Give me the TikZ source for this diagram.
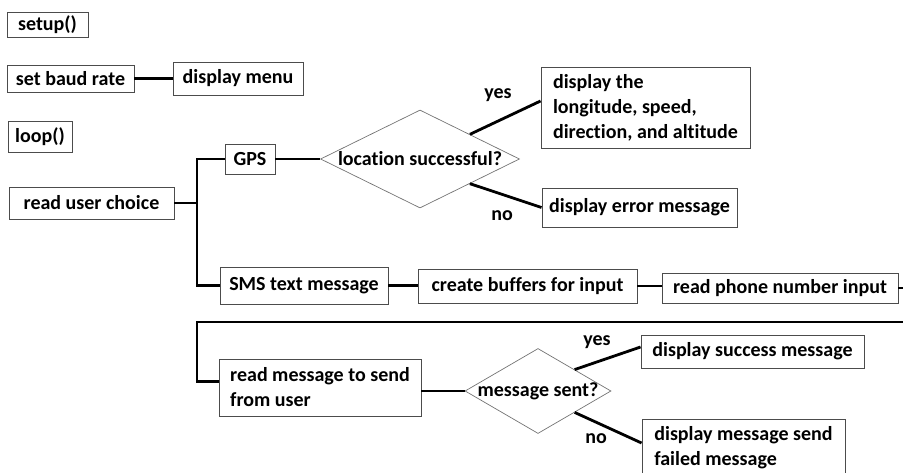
\documentclass[tikz,border=0pt]{standalone}
\usepackage{fontspec}
\setmainfont{Carlito}[Ligatures=NoCommon]
\usetikzlibrary{shapes.geometric}

\begin{document}
\begin{tikzpicture}[x=1pt, y=-1pt,
    font=\fontsize{20}{25}\selectfont\bfseries,
    box/.style={draw=black!70, line width=0.9pt, align=left, inner xsep=4pt, inner ysep=3pt},
    decision/.style={diamond, draw=black!55, line width=0.7pt, inner sep=0pt},
    conn/.style={line width=2.8pt},
    lbl/.style={inner sep=0pt}]
    \useasboundingbox (0,0) rectangle (903,473);

    % Start boxes
    \node[box, minimum width=81pt, minimum height=25pt] (setup) at (47.5,24.5) {setup()};
    \node[box, minimum width=127pt, minimum height=27pt] (baud) at (70.5,78.5) {set baud rate};
    \node[box, minimum width=130pt, minimum height=33pt] (menu) at (238,78.5) {display menu};
    \node[box, minimum width=64pt, minimum height=31pt] (loop) at (40,136.5) {loop()};
    \node[box, minimum width=165pt, minimum height=32pt] (choice) at (91.5,203) {read user choice};

    % GPS branch
    \node[box, minimum width=50pt, minimum height=30pt] (gps) at (250,159) {GPS};
    \node[decision, minimum width=199pt, minimum height=98pt] (gpsok) at (420,159) {\makebox[0pt]{location successful?}};
    \node[box, minimum width=209pt, minimum height=81pt] (showgps) at (645.5,107.5) {display the\\longitude, speed,\\direction, and altitude};
    \node[box, minimum width=195pt, minimum height=39pt] (gpserr) at (639.5,207.5) {display error message};

    % SMS branch
    \node[box, minimum width=168pt, minimum height=37pt] (sms) at (304,285.5) {SMS text message};
    \node[box, minimum width=219pt, minimum height=34pt] (buffers) at (527.5,286) {create buffers for input};
    \node[box, minimum width=236pt, minimum height=30pt] (phone) at (780,288) {read phone number input};
    \node[box, minimum width=202pt, minimum height=57pt] (readmsg) at (320,387.5) {read message to send\\from user};
    \node[decision, minimum width=146pt, minimum height=85pt] (msgok) at (538,391) {\makebox[0pt]{message sent?}};
    \node[box, minimum width=223pt, minimum height=33pt] (sent) at (752.5,351.5) {display success message};
    \node[box, minimum width=203pt, minimum height=57pt] (failed) at (743.5,447.5) {display message send\\failed message};

    % Labels for answers
    \node[lbl] (yes1) at (498,95) {yes};
    \node[lbl] (no1) at (502,216) {no};
    \node[lbl] (yes2) at (597,342) {yes};
    \node[lbl] (no2) at (596,439) {no};

    % Edges
    \coordinate (split) at (197,203);
    \coordinate (wrap) at (197,322);
    \draw[conn] (baud) -- (menu);
    \draw[conn] (choice) -- (split);
    \draw[conn] (gps.west) -| (split) |- (sms.west);
    \draw[conn] (gps) -- (gpsok);
    \draw[conn] (gpsok.north east) -- ([yshift=6.5pt]showgps.west);
    \draw[conn] (gpsok.south east) -- (gpserr.west);
    \draw[conn] (sms.east) -- (sms.east -| buffers.west);
    \draw[conn] (buffers.east) -- (buffers.east -| phone.west);
    \draw[conn] (phone.east) -- ++(12,0) |- (wrap) |- ([yshift=6pt]readmsg.west);
    \draw[conn] (readmsg.east |- msgok.west) -- (msgok.west);
    \draw[conn] (msgok.north east) -- ([yshift=4.5pt]sent.west);
    \draw[conn] (msgok.south east) -- ([yshift=4.5pt]failed.west);
\end{tikzpicture}
\end{document}
